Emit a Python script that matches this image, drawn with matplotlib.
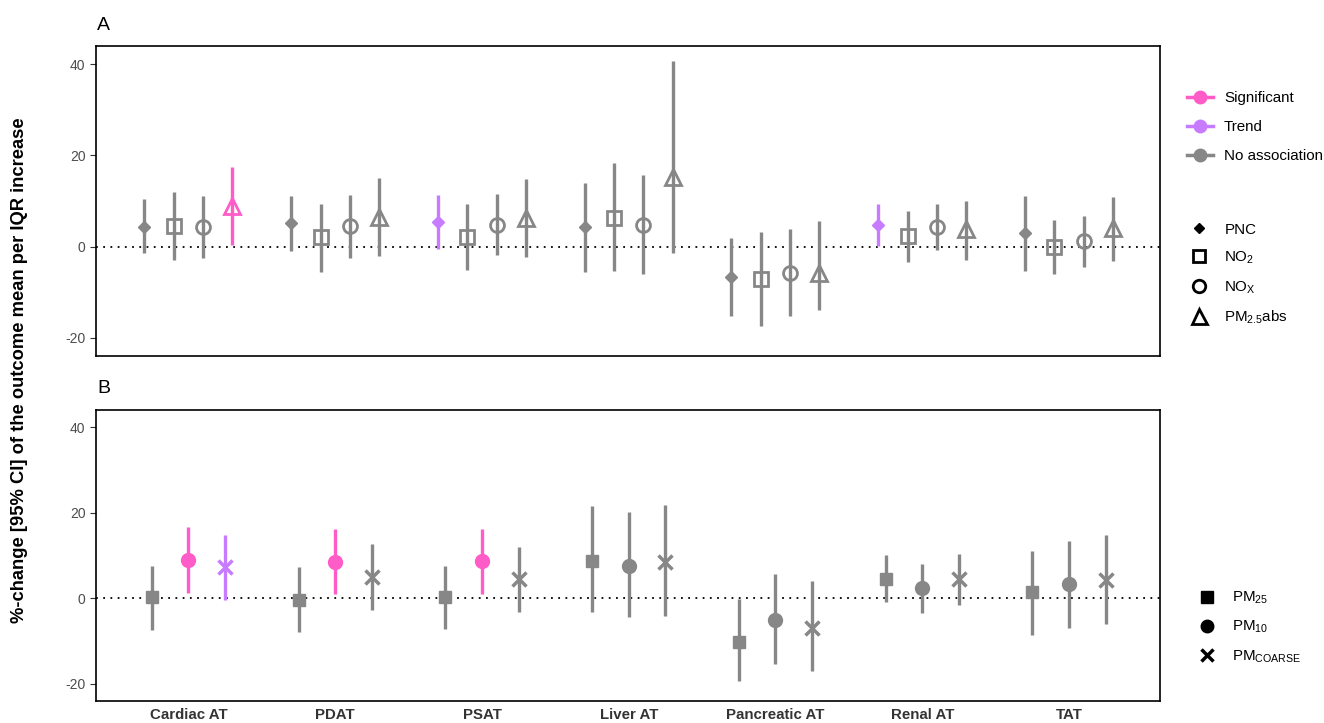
import numpy as np
import matplotlib.pyplot as plt
from matplotlib.lines import Line2D

plt.rcParams['font.family'] = ['Liberation Sans', 'DejaVu Sans']
plt.rcParams['mathtext.default'] = 'regular'
plt.rcParams['axes.unicode_minus'] = False

depots = ['Cardiac AT', 'PDAT', 'PSAT', 'Liver AT', 'Pancreatic AT', 'Renal AT', 'TAT']

# panel A: PNC, NO2, NOx, PM2.5abs
labels_a = ['PNC', 'NO$_2$', 'NO$_X$', 'PM$_{2.5}$abs']
est_a = [[4.4, 4.5, 4.2, 8.9],
         [5.2, 2.0, 4.5, 6.5],
         [5.3, 2.2, 4.8, 6.3],
         [4.2, 6.3, 4.7, 15.3],
         [-6.7, -7.2, -5.7, -5.9],
         [4.7, 2.3, 4.4, 3.8],
         [2.9, -0.2, 1.3, 4.0]]
lo_a = [[-1.5, -2.9, -2.6, 0.3],
        [-0.9, -5.5, -2.4, -2.0],
        [-0.6, -5.1, -1.9, -2.2],
        [-5.6, -5.4, -6.1, -1.3],
        [-15.3, -17.4, -15.2, -14.0],
        [0.1, -3.4, -0.8, -2.9],
        [-5.3, -6.1, -4.4, -3.1]]
hi_a = [[10.4, 11.9, 11.0, 17.4],
        [11.2, 9.4, 11.3, 15.1],
        [11.3, 9.4, 11.5, 14.8],
        [13.9, 18.3, 15.7, 40.7],
        [1.8, 3.1, 3.8, 5.6],
        [9.3, 7.8, 9.4, 9.9],
        [11.0, 5.9, 6.7, 10.8]]
status_a = [['N', 'N', 'N', 'S'],
            ['N', 'N', 'N', 'N'],
            ['T', 'N', 'N', 'N'],
            ['N', 'N', 'N', 'N'],
            ['N', 'N', 'N', 'N'],
            ['T', 'N', 'N', 'N'],
            ['N', 'N', 'N', 'N']]

# panel B: PM25, PM10, PMcoarse
labels_b = ['PM$_{25}$', 'PM$_{10}$', 'PM$_{COARSE}$']
est_b = [[0.2, 8.9, 7.2],
         [-0.3, 8.6, 4.9],
         [0.2, 8.7, 4.4],
         [8.7, 7.6, 8.4],
         [-10.1, -5.1, -6.9],
         [4.6, 2.3, 4.4],
         [1.4, 3.4, 4.3]]
lo_b = [[-7.3, 1.2, -0.4],
        [-7.8, 0.9, -2.8],
        [-7.2, 1.1, -3.2],
        [-3.2, -4.4, -4.1],
        [-19.4, -15.3, -16.9],
        [-0.9, -3.5, -1.6],
        [-8.6, -6.9, -6.0]]
hi_b = [[7.6, 16.6, 14.9],
        [7.2, 16.2, 12.7],
        [7.6, 16.2, 12.1],
        [21.6, 20.2, 21.7],
        [-0.1, 5.6, 4.0],
        [10.1, 8.1, 10.4],
        [11.1, 13.5, 14.7]]
status_b = [['N', 'S', 'T'],
            ['N', 'S', 'N'],
            ['N', 'S', 'N'],
            ['N', 'N', 'N'],
            ['N', 'N', 'N'],
            ['N', 'N', 'N'],
            ['N', 'N', 'N']]

status_names = {'S': 'Significant', 'T': 'Trend', 'N': 'No association'}
colours = {'S': '#FF5CC8', 'T': '#C77CFF', 'N': '#878787'}

# marker style per pollutant: (marker, size, filled, edge width)
markers_a = [('D', 6, True, 1), ('s', 10, False, 2), ('o', 10, False, 2), ('^', 12, False, 2)]
markers_b = [('s', 9, True, 1), ('o', 10, True, 1), ('x', 10, True, 2.5)]
offs_a = [-0.3, -0.1, 0.1, 0.3]
offs_b = [-0.25, 0.0, 0.25]

fig = plt.figure(figsize=(13.24, 7.23), dpi=100)
ax_a = fig.add_axes([0.0725, 0.5076, 0.8036, 0.4288])
ax_b = fig.add_axes([0.0725, 0.0304, 0.8036, 0.4025])


def draw_panel(ax, est, lo, hi, status, styles, offs):
    for i in range(len(depots)):
        for j in range(len(styles)):
            x = i + offs[j]
            c = colours[status[i][j]]
            m, ms, filled, mew = styles[j]
            ax.vlines(x, lo[i][j], hi[i][j], color=c, lw=2.4, zorder=2)
            ax.plot(x, est[i][j], marker=m, markersize=ms, color=c,
                    markerfacecolor=c if filled else 'none',
                    markeredgecolor=c, markeredgewidth=mew, zorder=3)
    ax.axhline(0, color='black', lw=1.3, ls=(0, (1, 3)), zorder=1)
    ax.set_xlim(-0.63, 6.62)
    ax.set_ylim(-24, 44)
    ax.set_yticks([-20, 0, 20, 40])
    ax.set_xticks(range(len(depots)))
    ax.tick_params(axis='y', labelsize=10, colors='#4D4D4D', length=4)
    ax.tick_params(axis='y', color='#333333')
    for s in ax.spines.values():
        s.set_linewidth(1.2)
        s.set_color('black')


draw_panel(ax_a, est_a, lo_a, hi_a, status_a, markers_a, offs_a)
draw_panel(ax_b, est_b, lo_b, hi_b, status_b, markers_b, offs_b)

ax_a.tick_params(axis='x', length=0, labelbottom=False)
ax_b.set_xticklabels(depots, fontweight='bold', fontsize=10.8, color='#333333')
ax_b.tick_params(axis='x', length=0, pad=5)

fig.text(0.0735, 0.965, 'A', fontsize=14, va='center')
fig.text(0.0735, 0.462, 'B', fontsize=14, va='center')
fig.text(0.015, 0.488, '%-change [95% CI] of the outcome mean per IQR increase',
         rotation=90, fontsize=13.2, fontweight='bold', va='center', ha='center')

# legends
col_handles = [Line2D([0], [0], color=colours[k], lw=2.5, marker='o', markersize=9)
               for k in ['S', 'T', 'N']]
fig.legend(col_handles, [status_names[k] for k in ['S', 'T', 'N']],
           loc='upper left', bbox_to_anchor=(0.8965, 0.874), frameon=False,
           fontsize=10.9, handlelength=1.7, handletextpad=0.75, labelspacing=1.0,
           borderpad=0, borderaxespad=0)

shape_a = [Line2D([0], [0], ls='none', color='black', marker=m, markersize=ms * 0.9,
                  markerfacecolor='black' if f else 'none', markeredgewidth=mew)
           for m, ms, f, mew in markers_a]
fig.legend(shape_a, labels_a, loc='upper left', bbox_to_anchor=(0.8999, 0.692),
           frameon=False, fontsize=10.9, handlelength=1.0, handletextpad=1.17,
           labelspacing=0.86, borderpad=0, borderaxespad=0)

shape_b = [Line2D([0], [0], ls='none', color='black', marker=m, markersize=ms * 0.9,
                  markerfacecolor='black', markeredgewidth=mew)
           for m, ms, f, mew in markers_b]
fig.legend(shape_b, labels_b, loc='upper left', bbox_to_anchor=(0.906, 0.184),
           frameon=False, fontsize=10.9, handlelength=1.0, handletextpad=1.17,
           labelspacing=0.84, borderpad=0, borderaxespad=0)

fig.savefig('out.png', dpi=100)
